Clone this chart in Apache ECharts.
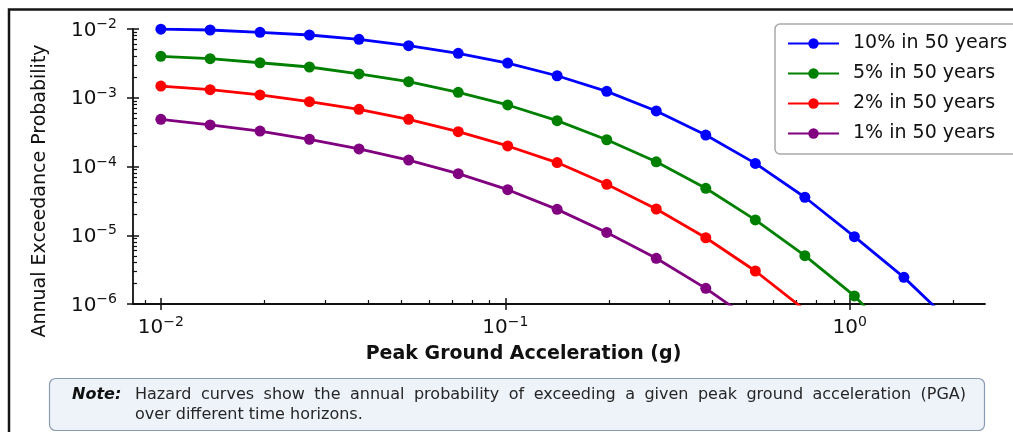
<!DOCTYPE html>
<html>
<head>
<meta charset="utf-8">
<script src="https://cdn.jsdelivr.net/npm/echarts@6/dist/echarts.min.js"></script>
<style>
  html, body { margin: 0; padding: 0; background: #ffffff; }
  #chart { width: 1013px; height: 432px; }
</style>
</head>
<body>
<div id="chart"></div>
<script>
// Peak ground acceleration (g) at which each curve is evaluated
const pga = [0.0100, 0.0139, 0.0194, 0.0270, 0.0376, 0.0524, 0.0730, 0.1016, 0.1414,
             0.1970, 0.2743, 0.3820, 0.5320, 0.7408, 1.0315, 1.4365, 2.0000];

// Annual exceedance probability per hazard level
const p10in50 = [9.95e-3, 9.67e-3, 8.95e-3, 8.18e-3, 7.08e-3, 5.72e-3, 4.43e-3, 3.20e-3, 2.09e-3,
                 1.24e-3, 6.42e-4, 2.87e-4, 1.11e-4, 3.57e-5, 9.53e-6, 2.44e-6, 5.0e-7];
const p5in50  = [4.01e-3, 3.70e-3, 3.23e-3, 2.80e-3, 2.22e-3, 1.71e-3, 1.20e-3, 7.85e-4, 4.64e-4,
                 2.45e-4, 1.17e-4, 4.82e-5, 1.67e-5, 5.04e-6, 1.31e-6, 2.4e-7];
const p2in50  = [1.48e-3, 1.31e-3, 1.10e-3, 8.76e-4, 6.80e-4, 4.86e-4, 3.21e-4, 1.99e-4, 1.14e-4,
                 5.51e-5, 2.41e-5, 9.20e-6, 3.02e-6, 8.2e-7];
const p1in50  = [4.86e-4, 4.02e-4, 3.28e-4, 2.49e-4, 1.80e-4, 1.24e-4, 7.86e-5, 4.60e-5, 2.38e-5,
                 1.10e-5, 4.62e-6, 1.69e-6, 5.3e-7];

const seriesNames = ['10% in 50 years', '5% in 50 years', '2% in 50 years', '1% in 50 years'];
const seriesValues = [p10in50, p5in50, p2in50, p1in50];
const seriesColors = ['#0000ff', '#008000', '#ff0000', '#800080'];

// Tick positions (decades and their 2..9 subdivisions)
const xMajorTicks = [0.01, 0.1, 1];
const xMinorTicks = [0.009, 0.02, 0.03, 0.04, 0.05, 0.06, 0.07, 0.08, 0.09,
                     0.2, 0.3, 0.4, 0.5, 0.6, 0.7, 0.8, 0.9, 2];
const yMajorTicks = [1e-6, 1e-5, 1e-4, 1e-3, 1e-2];
const yMinorTicks = [2e-6, 3e-6, 4e-6, 5e-6, 6e-6, 7e-6, 8e-6, 9e-6,
                     2e-5, 3e-5, 4e-5, 5e-5, 6e-5, 7e-5, 8e-5, 9e-5,
                     2e-4, 3e-4, 4e-4, 5e-4, 6e-4, 7e-4, 8e-4, 9e-4,
                     2e-3, 3e-3, 4e-3, 5e-3, 6e-3, 7e-3, 8e-3, 9e-3];

const noteLines = [
  'Hazard curves show the annual probability of exceeding a given peak ground acceleration (PGA)',
  'over different time horizons.'
];

const X_MIN = 0.0083, X_MAX = 2.47;
const Y_MIN = 1e-6, Y_MAX = 1e-2;

const FONT = 'DejaVu Sans';
const INK = '#111111';

function powLabel(value) {
  const e = Math.round(Math.log10(value));
  const exp = e < 0 ? '\u2212' + (-e) : String(e);
  return '{b|10}{s|' + exp + '}';
}
const powRich = {
  b: { fontFamily: FONT, fontSize: 20, lineHeight: 23, verticalAlign: 'bottom', color: INK },
  s: { fontFamily: FONT, fontSize: 14, lineHeight: 14, verticalAlign: 'top', color: INK }
};

// Justified note line: widen the spaces so the first line fills the panel
const NOTE_FONT = '16px "DejaVu Sans"';
const NOTE_WIDTH = 831;
function justifiedRich(line, width) {
  const ctx = document.createElement('canvas').getContext('2d');
  ctx.font = NOTE_FONT;
  const words = line.split(' ');
  const wordsWidth = words.reduce(function (s, w) { return s + ctx.measureText(w).width; }, 0);
  const gap = (width - wordsWidth) / (words.length - 1);
  return {
    text: words.map(function (w) { return '{w|' + w + '}'; }).join('{g| }'),
    gap: gap
  };
}
const noteJustified = justifiedRich(noteLines[0], NOTE_WIDTH);

function xAxisLayer(extra) {
  return Object.assign({
    type: 'log', logBase: 10, min: X_MIN, max: X_MAX, position: 'bottom', gridIndex: 0,
    splitLine: { show: false }, minorTick: { show: false },
    axisLine: { show: false, onZero: false },
    axisLabel: { show: false }
  }, extra);
}
function yAxisLayer(extra) {
  return Object.assign({
    type: 'log', logBase: 10, min: Y_MIN, max: Y_MAX, position: 'left', gridIndex: 0,
    splitLine: { show: false }, minorTick: { show: false },
    axisLine: { show: false, onZero: false },
    axisLabel: { show: false }
  }, extra);
}

const chart = echarts.init(document.getElementById('chart'), null, { renderer: 'canvas' });

const option = {
  animation: false,
  backgroundColor: '#ffffff',
  grid: { left: 133, right: 28, top: 29, bottom: 128, containLabel: false, outerBoundsMode: 'none' },
  legend: {
    left: 775, top: 24,
    orient: 'vertical',
    padding: [10, 12, 11, 12],
    itemWidth: 51, itemHeight: 13, itemGap: 11,
    backgroundColor: '#ffffff',
    borderColor: '#a9a9a9', borderWidth: 1.5, borderRadius: 5,
    selectedMode: false,
    textStyle: { fontFamily: FONT, fontSize: 19, color: INK, padding: [0, 0, 0, 9] },
    data: seriesNames
  },
  xAxis: [
    xAxisLayer({
      name: 'Peak Ground Acceleration (g)',
      nameLocation: 'middle', nameGap: 41,
      nameTextStyle: { fontFamily: FONT, fontSize: 19, fontWeight: 'bold', color: INK, padding: [0, 71, 0, 0] },
      axisLine: { show: true, onZero: false, lineStyle: { color: INK, width: 1.8 } },
      axisTick: { show: true, inside: false, length: 6, customValues: xMajorTicks, lineStyle: { color: INK, width: 1.5 } },
      axisLabel: { show: true, margin: 11, customValues: xMajorTicks, formatter: powLabel, rich: powRich }
    }),
    xAxisLayer({
      axisTick: { show: true, inside: true, length: 6, customValues: xMajorTicks, lineStyle: { color: INK, width: 1.5 } }
    }),
    xAxisLayer({
      axisTick: { show: true, inside: true, length: 4, customValues: xMinorTicks, lineStyle: { color: INK, width: 1.2 } }
    })
  ],
  yAxis: [
    yAxisLayer({
      name: 'Annual Exceedance Probability',
      nameLocation: 'middle', nameGap: 83,
      nameTextStyle: { fontFamily: FONT, fontSize: 19, color: INK, padding: [0, 49, 0, 0] },
      axisLine: { show: true, onZero: false, lineStyle: { color: INK, width: 1.8 } },
      axisTick: { show: true, inside: false, length: 6, customValues: yMajorTicks, lineStyle: { color: INK, width: 1.5 } },
      axisLabel: { show: true, margin: 16, customValues: yMajorTicks, formatter: powLabel, rich: powRich }
    }),
    yAxisLayer({
      axisTick: { show: true, inside: true, length: 6, customValues: yMajorTicks, lineStyle: { color: INK, width: 1.5 } }
    }),
    yAxisLayer({
      axisTick: { show: true, inside: true, length: 4, customValues: yMinorTicks, lineStyle: { color: INK, width: 1.2 } }
    })
  ],
  series: seriesNames.map(function (name, i) {
    return {
      name: name,
      type: 'line',
      xAxisIndex: 0, yAxisIndex: 0,
      data: seriesValues[i].map(function (v, k) { return [pga[k], v]; }),
      symbol: 'circle', symbolSize: 11,
      showAllSymbol: true,
      clip: true,
      color: seriesColors[i],
      lineStyle: { color: seriesColors[i], width: 2.8 },
      itemStyle: { color: seriesColors[i] },
      z: 2 + i
    };
  }),
  graphic: [
    // figure frame
    { type: 'rect', silent: true, z: 100,
      shape: { x: 9, y: 9.5, width: 1200, height: 800 },
      style: { fill: null, stroke: '#151515', lineWidth: 2.5 } },
    // note panel
    { type: 'rect', silent: true, z: 100,
      shape: { x: 49.5, y: 378.5, width: 935, height: 52, r: 6 },
      style: { fill: '#eef2f9', stroke: '#8a9ab3', lineWidth: 1.2 } },
    { type: 'text', silent: true, z: 101, x: 72, y: 395,
      style: { text: 'Note:', font: 'italic bold 16px "DejaVu Sans"', fill: '#111111',
               verticalAlign: 'middle', align: 'left' } },
    { type: 'text', silent: true, z: 101, x: 135, y: 395,
      style: { text: noteJustified.text, verticalAlign: 'middle', align: 'left',
               rich: {
                 w: { font: NOTE_FONT, fill: '#262626', lineHeight: 20 },
                 g: { font: NOTE_FONT, fill: '#262626', lineHeight: 20, width: noteJustified.gap }
               } } },
    { type: 'text', silent: true, z: 101, x: 135, y: 415,
      style: { text: noteLines[1], font: NOTE_FONT, fill: '#262626',
               verticalAlign: 'middle', align: 'left' } }
  ]
};

chart.setOption(option);
</script>
</body>
</html>
